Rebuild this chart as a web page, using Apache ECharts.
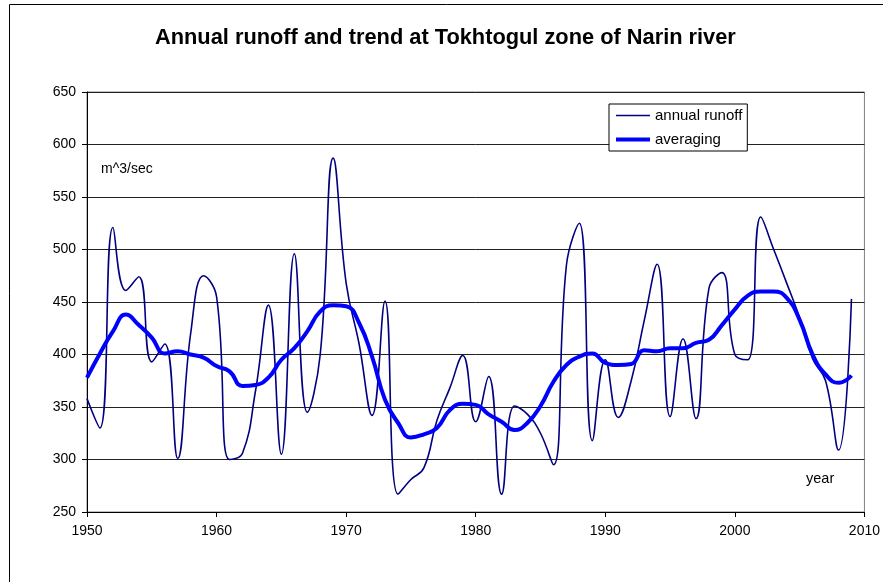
<!DOCTYPE html>
<html>
<head>
<meta charset="utf-8">
<script src="https://cdn.jsdelivr.net/npm/echarts@6/dist/echarts.min.js"></script>
<style>
html,body{margin:0;padding:0;background:#fff;}
#chart{width:883px;height:582px;}
</style>
</head>
<body>
<div id="chart"></div>
<script>
var years = [];
for (var y = 1950; y <= 2009; y++) years.push(y);

var annualRunoff = [358, 330, 521, 461, 474, 393, 410, 301, 420, 475,
                    455, 300, 306, 365, 447, 305, 496, 345, 400, 587,
                    468, 410, 342, 451, 267, 281, 292, 337, 368, 399,
                    336, 379, 267, 351, 343, 325, 295, 485, 525, 318,
                    395, 340, 375, 432, 486, 341, 415, 339, 463, 478,
                    400, 395, 531, 500, 468, 435, 396, 375, 309, 453];

var averaging = [378, 401, 422, 438, 428, 416, 401, 403, 400, 397,
                 389, 384, 370, 371, 378, 395, 406, 422, 441, 447,
                 446, 430, 398, 357, 335, 321, 324, 330, 347, 353,
                 352, 343, 336, 328, 335, 351, 374, 390, 398, 401,
                 392, 390, 391, 404, 403, 406, 406, 411, 414, 428,
                 443, 456, 460, 460, 454, 433, 400, 381, 373, 380];

var seriesNames = ['annual runoff', 'averaging'];
var titleText = 'Annual runoff and trend at Tokhtogul zone of Narin river';
var yUnit = 'm^3/sec';
var xUnit = 'year';

function pairs(vals) { return years.map(function (yr, i) { return [yr, vals[i]]; }); }

var font = 'Liberation Sans, Arial, sans-serif';
var chart = echarts.init(document.getElementById('chart'), null, {renderer: 'canvas'});
chart.setOption({
  animation: false,
  backgroundColor: '#fff',
  title: {
    text: titleText, left: 150, top: 22,
    textStyle: {fontFamily: font, fontSize: 21.8, fontWeight: 'bold', color: '#000'}
  },
  grid: {
    left: 87, right: 17, top: 92, bottom: 70,
    show: true, borderColor: '#808080', borderWidth: 1, backgroundColor: '#fff'
  },
  legend: {
    left: 609, top: 104, orient: 'vertical',
    padding: [4, 5, 4, 5], itemGap: 9, itemWidth: 34, itemHeight: 14,
    borderColor: '#000', borderWidth: 1, backgroundColor: '#fff',
    itemStyle: {opacity: 0},
    textStyle: {fontFamily: font, fontSize: 15, color: '#000'},
    data: [
      {name: seriesNames[0], lineStyle: {width: 1.6, color: '#000080'}},
      {name: seriesNames[1], lineStyle: {width: 4, color: '#0000ff'}}
    ]
  },
  xAxis: {
    type: 'value', min: 1950, max: 2010, interval: 10,
    axisLine: {lineStyle: {color: '#000', width: 1}},
    axisTick: {show: true, length: 5, lineStyle: {color: '#000'}},
    axisLabel: {fontFamily: font, fontSize: 14, color: '#000', margin: 12,
                formatter: function (v) { return String(v); }},
    splitLine: {show: false}
  },
  yAxis: {
    type: 'value', min: 250, max: 650, interval: 50,
    axisLine: {show: true, lineStyle: {color: '#000', width: 1}},
    axisTick: {show: true, length: 5, lineStyle: {color: '#000'}},
    axisLabel: {fontFamily: font, fontSize: 14, color: '#000', margin: 11},
    splitLine: {show: true, lineStyle: {color: '#222', width: 1}}
  },
  series: [
    {
      name: seriesNames[0], type: 'line', data: pairs(annualRunoff),
      smooth: 0.45, symbol: 'none',
      lineStyle: {color: '#000080', width: 1.6}, itemStyle: {color: '#000080'}, z: 3
    },
    {
      name: seriesNames[1], type: 'line', data: pairs(averaging),
      smooth: 0.5, symbol: 'none',
      lineStyle: {color: '#0000ff', width: 4}, itemStyle: {color: '#0000ff'}, z: 4
    }
  ],
  graphic: [
    {type: 'rect', z: -10, silent: true,
     shape: {x: 9.5, y: 4.5, width: 900, height: 600},
     style: {fill: 'none', stroke: '#000', lineWidth: 1}},
    {type: 'text', left: 101, top: 162, z: 10,
     style: {text: yUnit, fontFamily: font, fontSize: 14, fill: '#000'}},
    {type: 'text', left: 806, top: 471, z: 10,
     style: {text: xUnit, fontFamily: font, fontSize: 14.5, fill: '#000'}}
  ]
});
</script>
</body>
</html>
